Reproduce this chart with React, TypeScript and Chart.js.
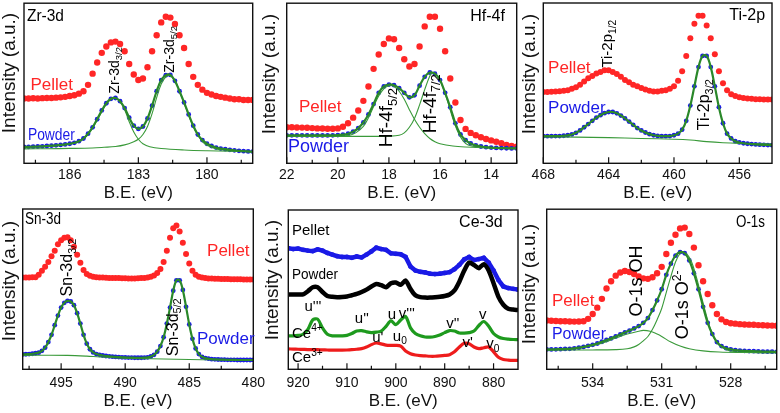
import React, { useEffect, useRef } from "react";
import { Chart, registerables } from "chart.js";
Chart.register(...registerables);

const FONT = '"Liberation Sans", Arial, Helvetica, sans-serif';
const RED = "#ff2626";
const BLUE = "#1a1ae6";
const GREEN = "#2a882a";
const GREEN_LT = "#3a9a3a";
const BLACK = "#000000";

// x grids (binding energy, eV)
function grid(start: number, step: number, n: number): number[] {
  return Array.from({ length: n }, (_, i) => Math.round((start + step * i) * 100) / 100);
}

// ---------- Zr-3d ----------
const ZR_X = grid(188, -0.2, 51);
const ZR_PELLET = [40.5,40.5,40.6,40.5,40.7,40.8,40.8,41,41.2,41.5,42,42.5,43.5,45,49,56,63,69,73,75.5,76,74.5,70,62,55.5,52,53,60,70,80,88,91.5,91,87,80,72,62,54,49,46,44,43,42,41.5,41,40.5,40,40,39.5,39.5,39.5];
const ZR_POWDER = [10.2,10.3,10.4,10.5,10.6,10.8,11,11.2,11.5,11.8,12.2,12.8,13.8,15.5,18.5,22.5,27.5,33,37.5,40.3,40.8,38.8,34.5,28.5,23.5,21.5,23,28,36,45,52,55,55.2,51.5,45,38,30.5,23.5,18,14.5,12.2,10.8,9.8,9.2,8.8,8.4,8.1,7.8,7.6,7.4,7.3];
const ZR_C1 = [[188,10.3],[187,10.6],[186.5,11.2],[186,12],[185.6,13.5],[185.2,18],[184.8,27],[184.4,37],[184.2,40],[184,40.7],[183.8,38.5],[183.6,33.5],[183.4,26],[183.2,19.5],[183,15],[182.8,12.2],[182.5,10.3],[182,9.2],[181,8.3],[180,7.8],[179,7.5],[178,7.2]];
const ZR_C2 = [[188,9],[187,9.1],[186,9.3],[185,9.6],[184.5,10],[184,10.5],[183.6,11.5],[183.2,13.5],[183,15],[182.8,18],[182.6,23],[182.4,31],[182.2,41],[182,49.5],[181.8,54],[181.65,55],[181.4,51.5],[181.2,45],[181,37.5],[180.8,30],[180.6,23],[180.4,17.5],[180.2,13.5],[180,11.2],[179.6,9],[179,8],[178,7.2]];
const ZR_MAJOR = [186, 183, 180];
const ZR_MINOR = [187.5, 184.5, 181.5, 178.5];

// ---------- Hf-4f ----------
const HF_X = grid(22, -0.2, 46);
const HF_PELLET = [22.5,22.5,22.4,22.3,22.2,22,21.8,21.7,21.6,21.6,21.8,22.8,25,28.5,33,39,48,59,68,74.5,78,77.5,72,65,60.5,62,73,85.5,91.5,91.5,84,70,53,38,27,21.5,19,17.5,16.3,15.2,14.3,13.5,12.5,11.5,10.8,10.3];
const HF_POWDER = [17.5,17.5,17.5,17.5,17.4,17.4,17.4,17.4,17.4,17.5,17.6,17.9,18.5,19.8,22,25.5,30.5,37,44,48,49.2,48.8,47,44,41.2,42.5,48.5,54,56.7,56,52,44,35,25,18,14.5,12.4,11.2,10.5,10.1,9.8,9.6,9.5,9.4,9.3,9.3];
const HF_C1 = [[22,17],[21,17],[20,17],[19.6,17.3],[19.3,19],[19,23],[18.8,28.5],[18.6,35.5],[18.4,42],[18.2,46.5],[18,48.5],[17.8,48],[17.6,45],[17.4,40],[17.2,33.5],[17,27.5],[16.8,22.5],[16.6,18.5],[16.4,15.5],[16.2,13.5],[16,12.2],[15.5,10.8],[15,10.2],[14,9.6],[13,9.3]];
const HF_C2 = [[22,16.8],[20,16.8],[18.5,16.8],[18,16.9],[17.6,17.5],[17.4,19],[17.2,22.5],[17,28],[16.8,36.5],[16.6,46],[16.4,54.5],[16.3,56.5],[16.1,54.5],[15.9,48],[15.7,38.5],[15.5,28],[15.3,19.5],[15.1,14],[14.9,11.5],[14.5,10],[14,9.5],[13,9.3]];
const HF_MAJOR = [22, 20, 18, 16, 14];
const HF_MINOR = [21, 19, 17, 15, 13];

// ---------- Ti-2p ----------
const TI_X = grid(468, -0.25, 57);
const TI_PELLET = [44.5,44.5,44.6,44.8,45,45.3,45.6,46.5,47.5,49,51,53,54.5,56,57,58,58,57,55.7,54,52,50.5,49,48,47,46,45.2,44.8,44.8,45.2,45.5,46.5,48,51.5,57.5,67,78,87,92,92,86,78,68,57.5,50,45.5,43,42,41.2,40.8,40.5,40.2,40,40,39.8,39.8,39.8];
const TI_POWDER = [16.9,16.9,16.9,17,17,17.2,17.5,18,19,20.5,22.5,24.5,26.5,28.5,30,31.3,32,32,31.2,29.8,28,26,24,22,20.5,19.2,18.2,17.5,17.1,16.9,16.9,17,17.5,18.5,21,26.5,36,48,60,67,67,60,48,35,25,18.5,15.5,13.8,13,12.5,12.2,12,11.8,11.6,11.5,11.4,11.3];
const TI_BG = [[468,16.5],[466,16.3],[464,16],[462,15.5],[460,15],[459,14.5],[458,13.5],[457,12.8],[456,12.4],[455,12.2],[454,12]];
const TI_MAJOR = [468, 464, 460, 456];
const TI_MINOR = [466, 462, 458];

// ---------- Sn-3d ----------
const SN_X = grid(498, -0.25, 73);
const SN_PELLET = [57.3,57.3,57.3,57.4,57.5,59,61.5,64,67,70.5,74,78,80.5,82,82.3,80.5,76.5,71.5,66.5,62,59.5,58.3,57.7,57.4,57.3,57.2,57.1,57,57,57,56.9,56.8,56.8,56.7,56.7,56.7,56.8,56.9,57,57.3,57.8,58.5,60,62.5,67,74,82,88,89.7,86,79,72,66,61.5,59,57.8,57.2,56.9,56.7,56.6,56.5,56.5,56.4,56.3,56.3,56.2,56.2,56.1,56.1,56,56,56,56];
const SN_POWDER = [9.3,9.4,9.5,9.7,10,10.4,11.5,13.5,17,21.5,27.5,33.5,38.5,41.5,42.7,42.3,40,35,28.5,21.5,16,12.5,10.5,9.5,9,8.6,8.3,8.1,7.9,7.7,7.6,7.5,7.4,7.3,7.3,7.2,7.2,7.2,7.3,7.5,8,9,11,14.5,20,28.5,38.5,49,55.5,55.5,49.5,39,28,19,13,9.5,7.8,7,6.6,6.3,6.2,6.1,6,6,5.9,5.9,5.9,5.8,5.8,5.8,5.8,5.8,5.8];
const SN_BG = [[498,8.7],[496,8.8],[494.5,8.7],[493,8.2],[492,7.7],[490,7],[488,6.6],[486,6.3],[484,6],[482,5.9],[480,5.8]];
const SN_MAJOR = [495, 490, 485, 480];
const SN_MINOR = [497.5, 492.5, 487.5, 482.5];

// ---------- Ce-3d ----------
const CE_X = grid(922, -1, 48);
const CE_PELLET = [76,75.5,75.8,75,74.5,74.2,75.3,74.5,73,72,71,70.5,70.5,70,70.8,70.2,72,74,76.3,75.5,75,72.8,72.5,72.2,70.5,64.5,62,61.2,60.8,60,59.8,60,60.5,61,62.8,65.5,69,70.5,68.5,69.2,70,67,62,56,52,51,50.5,50];
const CE_POWDER = [47,47,47,47,49,51.5,51.5,48.5,46,45.5,45.3,45.4,45.7,46.5,47.3,48.5,50,52,53.5,52.8,51.5,54,54.5,53,55.7,50.5,46.5,45.3,45,45,45.2,45.5,46,47,49.5,55,62,67,65.5,63.5,66,62,54,45.5,40.5,38,37.5,37.2];
const CE_4 = [21,21,21.3,22,25,31,31.5,26,22,21,21,21,21.3,22.5,24,24.3,23.5,23,23.3,24,27,30.5,28,31,33.2,26,22.5,21,20.3,20.2,20.6,21.5,23,24.3,24,22.8,22.7,23,24,27.5,30,27,22.5,20.3,19.3,18.9,18.7,18.6];
const CE_3 = [12.8,12.7,12.6,12.5,12.4,12.4,12.3,12.2,12.1,12,12,12,12.1,12.3,12.6,13,14,15.5,16.5,16,15.2,15,15,14.5,11.5,9.8,9,8.6,8.4,8.2,8.2,8.4,8.7,9.2,11,14,16.3,16,14,13,13.5,14,11,7.5,6.2,5.8,5.6,5.6];
const CE_MAJOR = [920, 910, 900, 890, 880];
const CE_MINOR = [915, 905, 895, 885];

// ---------- O-1s ----------
const O_X = grid(536, -0.2, 51);
const O_PELLET = [30.5,30.3,30.2,30,30,29.9,29.8,29.9,30,31.5,34.5,38.5,44,50.5,55,58.5,60.5,61.4,60.8,59.5,58,56.8,56.5,57.5,60,64,72,79,84,88,88.5,84.5,76,65,55,47,40,34.5,31.2,29.5,28.8,28.5,28.2,28,27.9,27.8,27.6,27.5,27.4,27.3,27.2];
const O_POWDER = [12.4,12.4,12.5,12.6,12.7,12.8,13.1,13.5,14,14.6,15.3,16.1,17.2,18.3,19.3,20.5,21.8,23,24.2,25.5,27,29,32,37,43,50,59,66,71,73.2,72.5,68,60,50,39,29,22,17,14.5,13.2,12.5,12,11.7,11.5,11.4,11.3,11.2,11.1,11,11,10.9];
const O_OH = [[536,12.3],[535,12.7],[534.5,13.5],[534,14.8],[533.5,16.8],[533,19.5],[532.5,22],[532,23.8],[531.8,24.3],[531.5,23.8],[531.2,22],[531,20.5],[530.6,17],[530.2,14.5],[529.8,12.8],[529.2,11.5],[528.5,10.8],[527.5,10.5],[526,10.3]];
const O_O2 = [[536,12],[534,12.1],[533,12.3],[532.5,12.8],[532.2,14],[532,15.5],[531.8,17.8],[531.6,20.5],[531.4,25],[531.2,31],[531,38],[530.8,48],[530.6,58],[530.4,67],[530.2,72.5],[530.1,73],[529.9,72],[529.7,67],[529.5,58],[529.3,47],[529.1,36],[528.9,26],[528.7,19],[528.5,15],[528.2,12.2],[527.8,11],[527,10.5],[526,10.3]];
const O_MAJOR = [534, 531, 528];
const O_MINOR = [535.5, 532.5, 529.5, 526.5];

// ---------- helpers ----------
const xy = (xs: number[], ys: number[]) => ys.map((y, i) => ({ x: xs[i], y }));
const pairs = (a: number[][]) => a.map(([x, y]) => ({ x, y }));
const dots = (data: any[], color: string, r: number, order: number) => ({
  data, showLine: false, pointRadius: r, pointBackgroundColor: color, pointBorderWidth: 0, pointHoverRadius: r, order,
});
const curve = (data: any[], color: string, w: number, order: number, tension = 0.35, pr = 0) => ({
  data, showLine: true, pointRadius: pr, pointBackgroundColor: color, pointBorderWidth: 0,
  borderColor: color, borderWidth: w, tension, fill: false, order,
});

type Lbl = { t: string; sub?: string; sup?: string; x: number; y: number; size: number; color: string; rot?: boolean; align?: "left" | "center" | "right"; mw?: number };
type PanelDef = {
  key: string; left: number; top: number; w: number; h: number;
  area: { l: number; r: number; t: number; b: number };
  xmin: number; xmax: number; major: number[]; minor: number[];
  datasets: any[]; labels: Lbl[]; yTitle: [number, number]; titlePad: number; tickPad: number;
};

const PANELS: PanelDef[] = [
  {
    key: "zr", left: 0, top: 0, w: 262, h: 206, area: { l: 24, r: 252.7, t: 2, b: 163.3 },
    xmin: 178, xmax: 188, major: ZR_MAJOR, minor: ZR_MINOR, yTitle: [10, 73], titlePad: 2.8, tickPad: 3,
    datasets: [
      curve(xy(ZR_X, ZR_POWDER), GREEN, 2.2, 0),
      curve(pairs(ZR_C1), GREEN_LT, 1.1, 1),
      curve(pairs(ZR_C2), GREEN_LT, 1.1, 1),
      dots(xy(ZR_X, ZR_POWDER), BLUE, 2.4, 2),
      dots(xy(ZR_X, ZR_PELLET), RED, 3.2, 3),
    ],
    labels: [
      { t: "Zr-3d", x: 187.87, y: 91.9, size: 16, color: BLACK, mw: 37 },
      { t: "Pellet", x: 187.72, y: 48.5, size: 17, color: RED },
      { t: "Powder", x: 187.83, y: 17.5, size: 17, color: BLUE, mw: 47 },
      { t: "Zr-3d", sub: "3/2", x: 184.02, y: 43.5, size: 14, color: BLACK, rot: true },
      { t: "Zr-3d", sub: "5/2", x: 181.62, y: 56.6, size: 14, color: BLACK, rot: true },
    ],
  },
  {
    key: "hf", left: 262, top: 0, w: 260, h: 206, area: { l: 24.7, r: 254.7, t: 2, b: 163.3 },
    xmin: 13, xmax: 22, major: HF_MAJOR, minor: HF_MINOR, yTitle: [8, 74], titlePad: 2.8, tickPad: 3,
    datasets: [
      curve(xy(HF_X, HF_POWDER), GREEN, 2.2, 0),
      curve(pairs(HF_C1), GREEN_LT, 1.1, 1),
      curve(pairs(HF_C2), GREEN_LT, 1.1, 1),
      dots(xy(HF_X, HF_POWDER), BLUE, 2.4, 2),
      dots(xy(HF_X, HF_PELLET), RED, 3.2, 3),
    ],
    labels: [
      { t: "Hf-4f", x: 13.46, y: 91.9, size: 16, color: BLACK, align: "right" },
      { t: "Pellet", x: 21.52, y: 34.9, size: 17, color: RED },
      { t: "Powder", x: 21.95, y: 10.1, size: 18, color: BLUE },
      { t: "Hf-4f", sub: "5/2", x: 18.08, y: 10.1, size: 19, color: BLACK, rot: true },
      { t: "Hf-4f", sub: "7/2", x: 16.38, y: 18.7, size: 19, color: BLACK, rot: true },
    ],
  },
  {
    key: "ti", left: 522, top: 0, w: 258, h: 206, area: { l: 21.3, r: 250, t: 2, b: 163.3 },
    xmin: 454, xmax: 468, major: TI_MAJOR, minor: TI_MINOR, yTitle: [8, 74], titlePad: 2.8, tickPad: 3,
    datasets: [
      curve(xy(TI_X, TI_POWDER), GREEN, 2.2, 0),
      curve(pairs(TI_BG), GREEN_LT, 1.1, 1),
      dots(xy(TI_X, TI_POWDER), BLUE, 2.4, 2),
      dots(xy(TI_X, TI_PELLET), RED, 3, 3),
    ],
    labels: [
      { t: "Ti-2p", x: 454.42, y: 91.9, size: 16, color: BLACK, align: "right" },
      { t: "Pellet", x: 467.71, y: 59.1, size: 17, color: RED },
      { t: "Powder", x: 467.71, y: 34.3, size: 17, color: BLUE },
      { t: "Ti-2p", sub: "1/2", x: 464.04, y: 59.7, size: 15, color: BLACK, rot: true },
      { t: "Ti-2p", sub: "3/2", x: 458.1, y: 20.6, size: 16, color: BLACK, rot: true },
    ],
  },
  {
    key: "sn", left: 0, top: 206, w: 275, h: 207, area: { l: 22.7, r: 253.3, t: 2, b: 163.3 },
    xmin: 480, xmax: 498, major: SN_MAJOR, minor: SN_MINOR, yTitle: [10, 75], titlePad: 1.3, tickPad: 5,
    datasets: [
      curve(xy(SN_X, SN_POWDER), GREEN, 2.2, 0),
      curve(pairs(SN_BG), GREEN_LT, 1.1, 1),
      dots(xy(SN_X, SN_POWDER), BLUE, 2.4, 2),
      dots(xy(SN_X, SN_PELLET), RED, 3, 3),
    ],
    labels: [
      { t: "Sn-3d", x: 497.82, y: 93.2, size: 16, color: BLACK, mw: 36 },
      { t: "Pellet", x: 483.61, y: 73.3, size: 17, color: RED },
      { t: "Powder", x: 484.4, y: 18.8, size: 17, color: BLUE },
      { t: "Sn-3d", sub: "3/2", x: 494.46, y: 45.4, size: 16, color: BLACK, rot: true },
      { t: "Sn-3d", sub: "5/2", x: 486.26, y: 8.2, size: 16, color: BLACK, rot: true },
    ],
  },
  {
    key: "ce", left: 262, top: 206, w: 260, h: 207, area: { l: 26.3, r: 256.3, t: 2, b: 163.3 },
    xmin: 875, xmax: 922, major: CE_MAJOR, minor: CE_MINOR, yTitle: [11, 74], titlePad: 1.3, tickPad: 5,
    datasets: [
      curve(xy(CE_X, CE_PELLET), BLUE, 4.5, 3, 0, 2.4),
      curve(xy(CE_X, CE_POWDER), BLACK, 4.5, 2, 0.25, 1.5),
      curve(xy(CE_X, CE_4), "#1e9a1e", 3.2, 1, 0.3),
      curve(xy(CE_X, CE_3), "#ee1c1c", 3.2, 0, 0.3),
    ],
    labels: [
      { t: "Ce-3d", x: 878.13, y: 91.9, size: 16, color: BLACK, align: "right" },
      { t: "Pellet", x: 921.24, y: 87, size: 15, color: BLACK },
      { t: "Powder", x: 921.24, y: 59.1, size: 15, color: BLACK, mw: 46 },
      { t: "u'''", x: 916.95, y: 39.2, size: 15, color: BLACK, align: "center" },
      { t: "u''", x: 906.94, y: 31.8, size: 15, color: BLACK, align: "center" },
      { t: "u", x: 900.8, y: 34.3, size: 15, color: BLACK, align: "center" },
      { t: "v'''", x: 897.74, y: 34.9, size: 15, color: BLACK, align: "center" },
      { t: "v''", x: 888.35, y: 28.7, size: 15, color: BLACK, align: "center" },
      { t: "v", x: 882.2, y: 34.3, size: 15, color: BLACK, align: "center" },
      { t: "Ce", sup: "4+", x: 921.24, y: 22.5, size: 15, color: BLACK },
      { t: "u'", x: 903.67, y: 20, size: 15, color: BLACK, align: "center" },
      { t: "u", sub: "0", x: 899.17, y: 20.6, size: 15, color: BLACK, align: "center" },
      { t: "v'", x: 885.28, y: 16.3, size: 15, color: BLACK, align: "center" },
      { t: "v", sub: "0", x: 880.17, y: 15.7, size: 15, color: BLACK, align: "center" },
      { t: "Ce", sup: "3+", x: 921.24, y: 7, size: 15, color: BLACK },
    ],
  },
  {
    key: "o", left: 522, top: 206, w: 258, h: 207, area: { l: 24.7, r: 254.7, t: 2, b: 163.3 },
    xmin: 526, xmax: 536, major: O_MAJOR, minor: O_MINOR, yTitle: [8, 78], titlePad: 1.3, tickPad: 5,
    datasets: [
      curve(xy(O_X, O_POWDER), GREEN, 2.2, 0),
      curve(pairs(O_OH), GREEN_LT, 1.1, 1),
      curve(pairs(O_O2), GREEN_LT, 1.1, 1),
      dots(xy(O_X, O_POWDER), BLUE, 2.4, 2),
      dots(xy(O_X, O_PELLET), RED, 3.2, 3),
    ],
    labels: [
      { t: "O-1s", x: 526.51, y: 91.9, size: 16, color: BLACK, align: "right", mw: 29 },
      { t: "Pellet", x: 535.77, y: 42.3, size: 17, color: RED },
      { t: "Powder", x: 535.77, y: 21.9, size: 17, color: BLUE, mw: 54 },
      { t: "O-1s OH", x: 532.07, y: 33, size: 18, color: BLACK, rot: true },
      { t: "O-1s O", sup: "2-", x: 530.07, y: 18.8, size: 18, color: BLACK, rot: true },
    ],
  },
];

const font = (s: number) => `${s}px ${FONT}`;

function drawLabel(ctx: CanvasRenderingContext2D, L: Lbl, px: number, py: number) {
  ctx.save();
  ctx.translate(px, py);
  if (L.rot) ctx.rotate(-Math.PI / 2);
  ctx.fillStyle = L.color;
  ctx.textBaseline = "middle";
  ctx.textAlign = "left";
  ctx.font = font(L.size);
  const mainW = ctx.measureText(L.t).width;
  const ss = L.size * 0.68;
  let extraW = 0;
  if (L.sub || L.sup) {
    ctx.font = font(ss);
    extraW = ctx.measureText((L.sub || L.sup) as string).width;
  }
  const total = mainW + extraW;
  const sc = L.mw && total > L.mw ? L.mw / total : 1;
  const x0 = L.align === "center" ? (-total * sc) / 2 : L.align === "right" ? -total * sc : 0;
  ctx.translate(x0, 0);
  ctx.scale(sc, 1);
  ctx.font = font(L.size);
  ctx.fillText(L.t, 0, 0);
  if (L.sub) {
    ctx.font = font(ss);
    ctx.fillText(L.sub, mainW, L.size * 0.32);
  }
  if (L.sup) {
    ctx.font = font(ss);
    ctx.fillText(L.sup, mainW, -L.size * 0.33);
  }
  ctx.restore();
}

function decoPlugin(p: PanelDef) {
  return {
    id: "deco_" + p.key,
    afterDraw(chart: any) {
      const { ctx, chartArea: a, scales } = chart;
      const xs = scales.x;
      const ys = scales.y;
      ctx.save();
      ctx.strokeStyle = "#111";
      ctx.lineWidth = 1.4;
      ctx.strokeRect(a.left, a.top, a.right - a.left, a.bottom - a.top);
      ctx.beginPath();
      for (const v of p.major) {
        const x = xs.getPixelForValue(v);
        ctx.moveTo(x, a.bottom);
        ctx.lineTo(x, a.bottom - 6);
      }
      for (const v of p.minor) {
        const x = xs.getPixelForValue(v);
        ctx.moveTo(x, a.bottom);
        ctx.lineTo(x, a.bottom - 3.5);
      }
      ctx.lineWidth = 1.2;
      ctx.stroke();
      ctx.save();
      ctx.translate(p.yTitle[0], p.yTitle[1]);
      ctx.rotate(-Math.PI / 2);
      ctx.font = font(19);
      ctx.fillStyle = "#111";
      ctx.textAlign = "center";
      ctx.textBaseline = "middle";
      ctx.fillText("Intensity (a.u.)", 0, 0);
      ctx.restore();
      for (const L of p.labels) drawLabel(ctx, L, xs.getPixelForValue(L.x), ys.getPixelForValue(L.y));
      ctx.restore();
    },
  };
}

function Panel({ p }: { p: PanelDef }) {
  const ref = useRef<HTMLCanvasElement>(null);
  useEffect(() => {
    const chart = new Chart(ref.current as HTMLCanvasElement, {
      type: "scatter",
      data: { datasets: p.datasets },
      options: {
        animation: false,
        responsive: false,
        maintainAspectRatio: false,
        devicePixelRatio: 1,
        events: [],
        layout: { padding: { left: p.area.l, right: p.w - p.area.r, top: p.area.t, bottom: 0 } },
        plugins: { legend: { display: false }, tooltip: { enabled: false } },
        scales: {
          x: {
            type: "linear",
            min: p.xmin,
            max: p.xmax,
            reverse: true,
            afterBuildTicks: (s: any) => {
              s.ticks = p.major.map((v) => ({ value: v }));
            },
            afterFit: (s: any) => {
              s.height = p.h - p.area.b;
            },
            grid: { display: false, drawTicks: false },
            border: { display: false },
            ticks: { padding: p.tickPad, font: { family: FONT, size: 14 }, color: "#111", maxRotation: 0, autoSkip: false },
            title: { display: true, text: "B.E. (eV)", font: { family: FONT, size: 17 }, color: "#111", padding: { top: 0, bottom: p.titlePad } },
          },
          y: { display: false, min: 0, max: 100 },
        },
      } as any,
      plugins: [decoPlugin(p)],
    });
    return () => chart.destroy();
  }, []);
  return (
    <canvas
      ref={ref}
      width={p.w}
      height={p.h}
      style={{ position: "absolute", left: p.left, top: p.top, width: p.w, height: p.h }}
    />
  );
}

export default function App() {
  return (
    <div style={{ position: "fixed", left: 0, top: 0, width: 780, height: 413, background: "#fff", overflow: "hidden" }}>
      {PANELS.map((p) => (
        <Panel key={p.key} p={p} />
      ))}
    </div>
  );
}
